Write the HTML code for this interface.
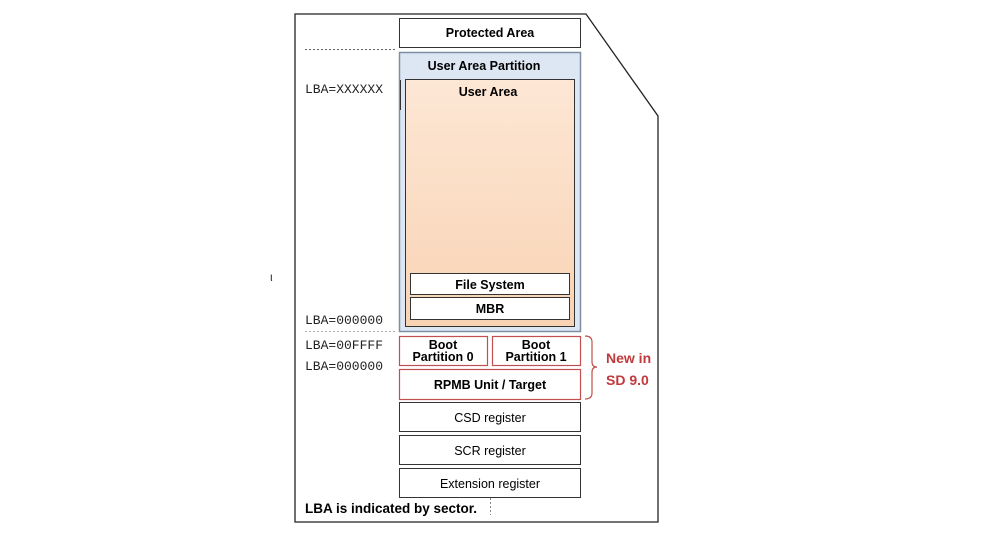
<!DOCTYPE html>
<html><head><meta charset="utf-8"><style>
html,body{margin:0;padding:0;background:#fff;}
svg{display:block;}
text{font-family:"Liberation Sans",sans-serif;}
.b{font-weight:bold;font-size:12.5px;}
.m{font-family:"Liberation Mono",monospace;font-size:13px;fill:#222;}
.r{font-size:12.5px;}
</style></head><body>
<svg width="1000" height="533" viewBox="0 0 1000 533" xmlns="http://www.w3.org/2000/svg">
<defs>
<linearGradient id="g" x1="0" y1="0" x2="0" y2="1">
<stop offset="0" stop-color="#fde7d5"/><stop offset="1" stop-color="#f8d3b4"/>
</linearGradient>
</defs>
<polygon points="295,14 586,14 658,116 658,522 295,522" fill="#fff" stroke="#222" stroke-width="1.3"/>
<text x="270" y="281" font-size="12" fill="#333">ι</text>
<rect x="399.5" y="18.5" width="181" height="29" fill="#fff" stroke="#333"/>
<text x="490" y="37" text-anchor="middle" class="b">Protected Area</text>
<line x1="305" y1="49.5" x2="397" y2="49.5" stroke="#666" stroke-dasharray="2,2"/>
<rect x="399.5" y="52.5" width="181" height="279" fill="#dde7f3" stroke="#7f8fa3" stroke-width="1.5"/>
<text x="484" y="70" text-anchor="middle" class="b">User Area Partition</text>
<rect x="405.5" y="79.5" width="169" height="247" fill="url(#g)" stroke="#333"/>
<text x="488" y="96" text-anchor="middle" class="b">User Area</text>
<rect x="410.5" y="273.5" width="159" height="21" fill="#fff" stroke="#333"/>
<text x="490" y="289" text-anchor="middle" class="b">File System</text>
<rect x="410.5" y="297.5" width="159" height="22" fill="#fff" stroke="#333"/>
<text x="490" y="313" text-anchor="middle" class="b">MBR</text>
<line x1="400.5" y1="80" x2="400.5" y2="110" stroke="#333"/>
<text x="305" y="93" class="m">LBA=XXXXXX</text>
<text x="305" y="324" class="m">LBA=000000</text>
<line x1="305" y1="331.5" x2="397" y2="331.5" stroke="#aaa" stroke-dasharray="2,2"/>
<text x="305" y="349" class="m">LBA=00FFFF</text>
<text x="305" y="370" class="m">LBA=000000</text>
<rect x="399.5" y="336.5" width="88" height="29" fill="#fff" stroke="#c0504d" stroke-width="1.2"/>
<text x="443" y="349" text-anchor="middle" class="b">Boot</text>
<text x="443" y="361" text-anchor="middle" class="b">Partition 0</text>
<rect x="492.5" y="336.5" width="88" height="29" fill="#fff" stroke="#c0504d" stroke-width="1.2"/>
<text x="536" y="349" text-anchor="middle" class="b">Boot</text>
<text x="536" y="361" text-anchor="middle" class="b">Partition 1</text>
<rect x="399.5" y="369.5" width="181" height="30" fill="#fff" stroke="#c0504d" stroke-width="1.2"/>
<text x="490" y="389" text-anchor="middle" class="b">RPMB Unit / Target</text>
<path d="M585,336 Q592,336 592,342 L592,362 Q592,367 597,367 Q592,367 592,372 L592,393 Q592,399 585,399" fill="none" stroke="#c0504d" stroke-width="1.2"/>
<text x="606" y="363" font-size="14" font-weight="bold" fill="#c0393b">New in</text>
<text x="606" y="385" font-size="14" font-weight="bold" fill="#c0393b">SD 9.0</text>
<rect x="399.5" y="402.5" width="181" height="29" fill="#fff" stroke="#333"/>
<text x="490" y="422" text-anchor="middle" class="r">CSD register</text>
<rect x="399.5" y="435.5" width="181" height="29" fill="#fff" stroke="#333"/>
<text x="490" y="455" text-anchor="middle" class="r">SCR register</text>
<rect x="399.5" y="468.5" width="181" height="29" fill="#fff" stroke="#333"/>
<text x="490" y="488" text-anchor="middle" class="r">Extension register</text>
<text x="305" y="513" font-size="13.5" font-weight="bold">LBA is indicated by sector.</text>
<line x1="490.5" y1="498" x2="490.5" y2="515" stroke="#888" stroke-dasharray="2,2"/>
</svg>
</body></html>
